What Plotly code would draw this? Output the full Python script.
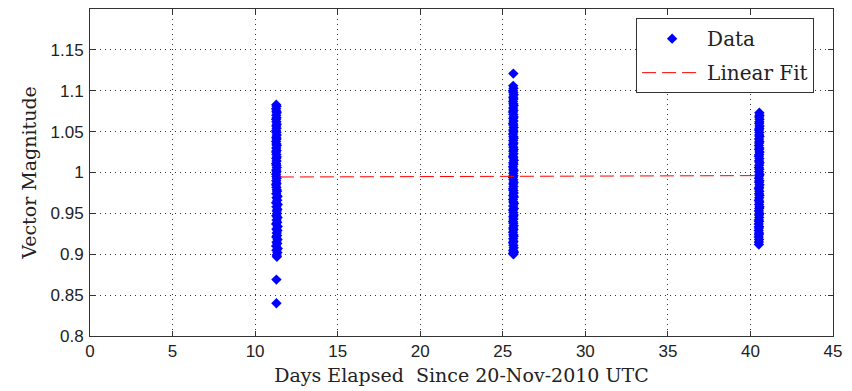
import plotly.graph_objects as go

# Cluster 1 (~day 11.3)
c1_y = [1.083, 1.081, 1.078, 1.075, 1.073, 1.070, 1.067, 1.065, 1.062, 1.059,
        1.057, 1.054, 1.051, 1.049, 1.046, 1.043, 1.041, 1.038, 1.035, 1.033,
        1.030, 1.027, 1.025, 1.022, 1.019, 1.017, 1.014, 1.011, 1.009, 1.006,
        1.003, 1.001, 0.998, 0.995, 0.993, 0.990, 0.987, 0.985, 0.982, 0.979,
        0.977, 0.974, 0.971, 0.969, 0.966, 0.963, 0.961, 0.958, 0.955, 0.953,
        0.950, 0.947, 0.945, 0.942, 0.939, 0.937, 0.934, 0.931, 0.929, 0.926,
        0.923, 0.921, 0.918, 0.915, 0.913, 0.910, 0.907, 0.905, 0.902, 0.899,
        0.897, 0.869, 0.840]
c1_x = [11.28, 11.30, 11.27, 11.29, 11.31, 11.28, 11.30, 11.27, 11.29, 11.31,
        11.28, 11.30, 11.27, 11.29, 11.31, 11.28, 11.30, 11.27, 11.29, 11.31,
        11.28, 11.30, 11.27, 11.29, 11.31, 11.28, 11.30, 11.27, 11.29, 11.31,
        11.28, 11.30, 11.27, 11.29, 11.31, 11.28, 11.30, 11.27, 11.29, 11.31,
        11.33, 11.28, 11.36, 11.30, 11.34, 11.27, 11.37, 11.29, 11.35, 11.31,
        11.33, 11.28, 11.36, 11.30, 11.34, 11.27, 11.37, 11.29, 11.35, 11.31,
        11.33, 11.28, 11.36, 11.30, 11.34, 11.27, 11.37, 11.29, 11.35, 11.31,
        11.32, 11.29, 11.29]

# Cluster 2 (~day 25.6)
c2_y = [1.121,
        1.106, 1.103, 1.100, 1.098, 1.095, 1.092, 1.090, 1.087, 1.084, 1.082,
        1.079, 1.076, 1.074, 1.071, 1.068, 1.066, 1.063, 1.060, 1.058, 1.055,
        1.052, 1.050, 1.047, 1.044, 1.042, 1.039, 1.036, 1.034, 1.031, 1.028,
        1.026, 1.023, 1.020, 1.018, 1.015, 1.012, 1.010, 1.007, 1.004, 1.002,
        0.999, 0.996, 0.994, 0.991, 0.988, 0.986, 0.983, 0.980, 0.978, 0.975,
        0.972, 0.970, 0.967, 0.964, 0.962, 0.959, 0.956, 0.954, 0.951, 0.948,
        0.946, 0.943, 0.940, 0.938, 0.935, 0.932, 0.930, 0.927, 0.924, 0.922,
        0.919, 0.916, 0.914, 0.911, 0.908, 0.905, 0.903, 0.901, 0.900, 0.902]
c2_x = [25.64,
        25.63, 25.65, 25.62, 25.64, 25.66, 25.63, 25.65, 25.62, 25.64, 25.66,
        25.63, 25.65, 25.62, 25.64, 25.66, 25.63, 25.65, 25.62, 25.64, 25.66,
        25.63, 25.65, 25.62, 25.64, 25.66, 25.63, 25.65, 25.62, 25.64, 25.66,
        25.63, 25.65, 25.62, 25.64, 25.67, 25.63, 25.65, 25.62, 25.64, 25.66,
        25.63, 25.65, 25.62, 25.64, 25.66, 25.63, 25.65, 25.62, 25.64, 25.66,
        25.63, 25.67, 25.62, 25.64, 25.68, 25.63, 25.67, 25.62, 25.64, 25.66,
        25.63, 25.65, 25.62, 25.64, 25.66, 25.63, 25.65, 25.62, 25.64, 25.66,
        25.63, 25.65, 25.62, 25.64, 25.66, 25.63, 25.66, 25.62, 25.65, 25.67]

# Cluster 3 (~day 40.5)
c3_y = [1.073, 1.070, 1.068, 1.065, 1.062, 1.060, 1.057, 1.054, 1.052, 1.049,
        1.046, 1.044, 1.041, 1.038, 1.036, 1.033, 1.030, 1.028, 1.025, 1.022,
        1.020, 1.017, 1.014, 1.012, 1.009, 1.006, 1.004, 1.001, 0.998, 0.996,
        0.993, 0.990, 0.988, 0.985, 0.982, 0.980, 0.977, 0.974, 0.972, 0.969,
        0.966, 0.964, 0.961, 0.958, 0.956, 0.953, 0.950, 0.948, 0.945, 0.942,
        0.940, 0.937, 0.934, 0.932, 0.929, 0.926, 0.924, 0.921, 0.918, 0.915,
        0.912]
c3_x = [40.54, 40.55, 40.53, 40.55, 40.54, 40.53, 40.55, 40.54, 40.52, 40.54,
        40.53, 40.55, 40.52, 40.54, 40.53, 40.51, 40.54, 40.52, 40.55, 40.53,
        40.51, 40.54, 40.52, 40.55, 40.53, 40.51, 40.54, 40.52, 40.55, 40.53,
        40.51, 40.54, 40.52, 40.55, 40.53, 40.51, 40.54, 40.52, 40.55, 40.53,
        40.51, 40.54, 40.52, 40.55, 40.53, 40.51, 40.54, 40.52, 40.53, 40.51,
        40.52, 40.50, 40.52, 40.51, 40.50, 40.52, 40.51, 40.50, 40.52, 40.51,
        40.51]

# Linear fit endpoints
fit_x = [11.5, 40.6]
fit_y = [0.9945, 0.9962]

x_ticks = [0, 5, 10, 15, 20, 25, 30, 35, 40, 45]
y_ticks = [0.8, 0.85, 0.9, 0.95, 1.0, 1.05, 1.1, 1.15]
y_tick_text = ["0.8", "0.85", "0.9", "0.95", "1", "1.05", "1.1", "1.15"]

data_x = c1_x + c2_x + c3_x
data_y = c1_y + c2_y + c3_y

fig = go.Figure()
fig.add_trace(go.Scatter(
    x=data_x, y=data_y, mode="markers", name="Data", legendgroup="a",
    marker=dict(symbol="diamond", size=8, color="#0000ff", line=dict(width=0)),
))
fig.add_trace(go.Scatter(
    x=fit_x, y=fit_y, mode="lines", name="Linear Fit", legendgroup="b",
    line=dict(color="#ff0000", width=1, dash="14px,6px"),
))

serif = "DejaVu Serif, Liberation Serif, serif"
tickfont = dict(family="Liberation Sans, Arial", size=17, color="#222")
axis_common = dict(
    showline=True, linecolor="#333", linewidth=1, mirror="allticks",
    ticks="inside", ticklen=5, tickcolor="#333", tickwidth=1,
    showgrid=True, gridcolor="#333", gridwidth=1, griddash="1px,4px",
    zeroline=False, tickfont=tickfont,
)

fig.update_layout(
    width=852, height=391,
    margin=dict(l=90, r=19, t=8, b=53),
    paper_bgcolor="white", plot_bgcolor="white",
    showlegend=True,
    legend=dict(
        x=0.735, y=0.972, xanchor="left", yanchor="top",
        bgcolor="white", bordercolor="#333", borderwidth=1,
        font=dict(family=serif, size=20, color="#222"),
        itemwidth=60, traceorder="grouped", tracegroupgap=5,
    ),
    xaxis=dict(range=[0, 45], tickvals=x_ticks, ticktext=[str(v) for v in x_ticks],
               title=dict(text="Days Elapsed  Since 20-Nov-2010 UTC",
                          font=dict(family=serif, size=19, color="#222"),
                          standoff=8),
               **axis_common),
    yaxis=dict(range=[0.8, 1.2], tickvals=y_ticks, ticktext=y_tick_text,
               ticklabelstandoff=2,
               title=dict(text="Vector Magnitude",
                          font=dict(family=serif, size=19, color="#222"),
                          standoff=8),
               **axis_common),
)

fig.write_html("out.html")
